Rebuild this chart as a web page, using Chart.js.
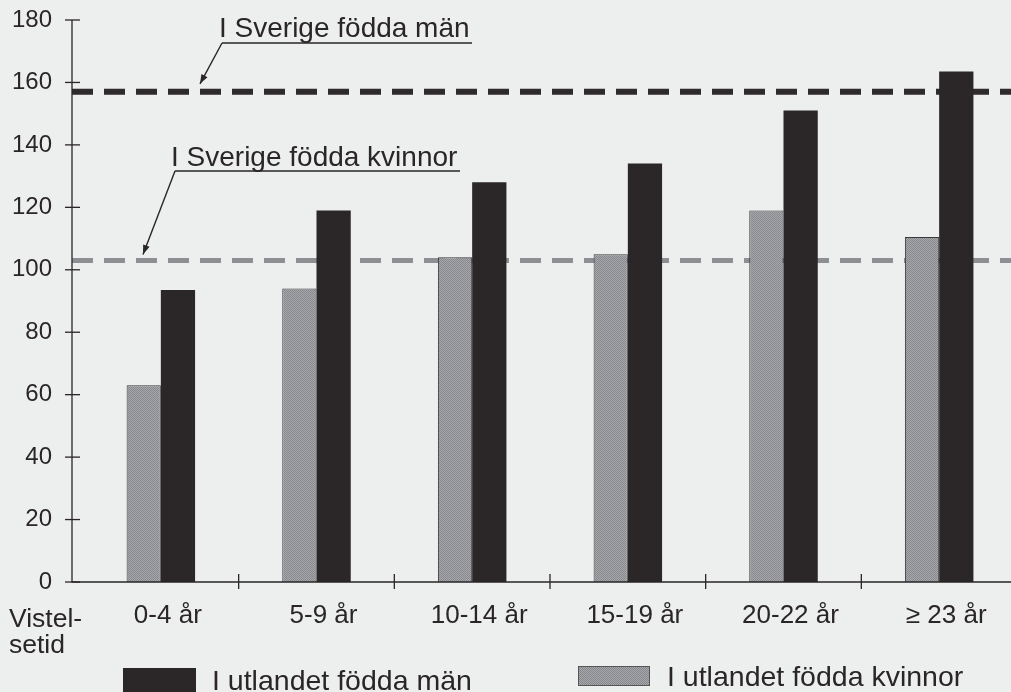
<!DOCTYPE html>
<html>
<head>
<meta charset="utf-8">
<script src="https://cdn.jsdelivr.net/npm/chart.js@4.4.0/dist/chart.umd.min.js"></script>
<style>
  html, body { margin: 0; padding: 0; overflow: hidden; background: #edeeee; }
  #wrap { width: 1017px; height: 692px; }
</style>
</head>
<body>
<div id="wrap"><canvas id="chart" width="1017" height="692"></canvas></div>
<script>
// Vistelsetid och värden
const categories = ['0-4 år', '5-9 år', '10-14 år', '15-19 år', '20-22 år', '≥ 23 år'];
const womenAbroad = [63, 94, 104, 105, 119, 110.5];
const menAbroad = [93.5, 119, 128, 134, 151, 163.5];
// referensnivåer för i Sverige födda
const swedishMen = 157;
const swedishWomen = 103;
const yTickValues = [0, 20, 40, 60, 80, 100, 120, 140, 160, 180];

const FONT = '"Liberation Sans", Arial, sans-serif';
const INK = '#2a2627';
const DARK = '#2b2627';
const AXIS_X = 72;   // där y-axeln står

// prickigt grått mönster för kvinnor
function makeStipple() {
  const c = document.createElement('canvas');
  c.width = 2; c.height = 2;
  const g = c.getContext('2d');
  g.fillStyle = '#a6a7ab';
  g.fillRect(0, 0, 2, 2);
  g.fillStyle = '#88898e';
  g.fillRect(0, 0, 1, 1);
  g.fillRect(1, 1, 1, 1);
  return g.createPattern(c, 'repeat');
}
const stipple = makeStipple();

function arrow(ctx, x0, y0, x1, y1) {
  ctx.beginPath();
  ctx.moveTo(x0, y0);
  ctx.lineTo(x1, y1);
  ctx.stroke();
  const a = Math.atan2(y1 - y0, x1 - x0);
  const len = 10, w = 0.35;
  ctx.beginPath();
  ctx.moveTo(x1, y1);
  ctx.lineTo(x1 - len * Math.cos(a - w), y1 - len * Math.sin(a - w));
  ctx.lineTo(x1 - len * Math.cos(a + w), y1 - len * Math.sin(a + w));
  ctx.closePath();
  ctx.fill();
}

// streckade referenslinjer, bakom staplarna
const refLines = {
  id: 'refLines',
  beforeDatasetsDraw(chart) {
    const ctx = chart.ctx, y = chart.scales.y;
    ctx.save();
    ctx.lineCap = 'butt';
    ctx.setLineDash([21, 11]);
    [[swedishMen, '#2f2a2b', 6], [swedishWomen, '#8e8f93', 5]].forEach(([v, col, w]) => {
      const py = y.getPixelForValue(v);
      ctx.strokeStyle = col;
      ctx.lineWidth = w;
      ctx.beginPath();
      ctx.moveTo(AXIS_X, py);
      ctx.lineTo(chart.width, py);
      ctx.stroke();
    });
    ctx.restore();
  }
};

// axlar med korsande tickmarkeringar, etiketter, pilar och teckenförklaring
const decor = {
  id: 'decor',
  afterDraw(chart) {
    const ctx = chart.ctx;
    const x = chart.scales.x, y = chart.scales.y;
    const area = chart.chartArea;
    ctx.save();
    ctx.strokeStyle = INK;
    ctx.fillStyle = INK;
    ctx.lineWidth = 1.3;

    // axellinjer
    ctx.beginPath();
    ctx.moveTo(AXIS_X, y.getPixelForValue(180));
    ctx.lineTo(AXIS_X, area.bottom);
    ctx.lineTo(chart.width, area.bottom);
    ctx.stroke();

    // y-ticks
    yTickValues.forEach(v => {
      const py = y.getPixelForValue(v);
      ctx.beginPath();
      ctx.moveTo(AXIS_X - 7, py);
      ctx.lineTo(AXIS_X + 8, py);
      ctx.stroke();
    });
    // x-ticks mellan kategorierna
    for (let i = 1; i < categories.length; i++) {
      const px = (x.getPixelForTick(i - 1) + x.getPixelForTick(i)) / 2;
      ctx.beginPath();
      ctx.moveTo(px, area.bottom - 8);
      ctx.lineTo(px, area.bottom + 7);
      ctx.stroke();
    }

    // annoteringar
    const yMen = y.getPixelForValue(swedishMen);
    const yWomen = y.getPixelForValue(swedishWomen);
    ctx.font = '28px ' + FONT;
    ctx.textBaseline = 'alphabetic';
    ctx.textAlign = 'left';
    ctx.fillText('I Sverige födda män', 219, 37);
    ctx.fillText('I Sverige födda kvinnor', 171, 166);
    ctx.lineWidth = 1.4;
    ctx.beginPath();
    ctx.moveTo(222, 43); ctx.lineTo(472, 43);
    ctx.moveTo(175, 171); ctx.lineTo(460, 171);
    ctx.stroke();
    arrow(ctx, 222, 43, 200, yMen - 8);
    arrow(ctx, 175, 171, 143, yWomen - 6);

    // Vistelsetid
    ctx.font = '26.5px ' + FONT;
    ctx.fillText('Vistel-', 9, 627);
    ctx.fillText('setid', 9, 653);

    // teckenförklaring
    const men = chart.data.datasets[1], women = chart.data.datasets[0];
    ctx.fillStyle = men.backgroundColor;
    ctx.fillRect(123, 668, 73, 24);
    ctx.fillStyle = women.backgroundColor;
    ctx.fillRect(578, 666, 72, 20);
    ctx.strokeStyle = '#555';
    ctx.lineWidth = 1;
    ctx.strokeRect(578.5, 666.5, 71, 19);
    ctx.fillStyle = INK;
    ctx.font = '28.5px ' + FONT;
    ctx.fillText(men.label, 212, 690);
    ctx.fillText(women.label, 667, 686);
    ctx.restore();
  }
};

new Chart(document.getElementById('chart'), {
  type: 'bar',
  data: {
    labels: categories,
    datasets: [
      {
        label: 'I utlandet födda kvinnor',
        data: womenAbroad,
        backgroundColor: stipple,
        borderColor: '#3a3a3a',
        borderWidth: 1,
        borderSkipped: 'bottom'
      },
      {
        label: 'I utlandet födda män',
        data: menAbroad,
        backgroundColor: DARK,
        borderWidth: 0
      }
    ]
  },
  options: {
    responsive: false,
    animation: false,
    categoryPercentage: 0.44,
    barPercentage: 1.0,
    layout: { padding: { top: 20, right: 0, left: 0, bottom: 0 } },
    plugins: { legend: { display: false }, tooltip: { enabled: false } },
    scales: {
      x: {
        afterFit: s => { s.height = 110; s.paddingLeft = 0; s.paddingRight = 0; },
        grid: { display: false, drawTicks: false },
        border: { display: false },
        ticks: { color: INK, padding: 18, labelOffset: 7, maxRotation: 0, autoSkip: false, font: { family: FONT, size: 26 } }
      },
      y: {
        min: 0,
        max: 180,
        afterFit: s => { s.width = 83; s.paddingTop = 0; s.paddingBottom = 0; },
        afterBuildTicks: s => { s.ticks = yTickValues.map(v => ({ value: v })); },
        grid: { display: false, drawTicks: false },
        border: { display: false },
        ticks: { color: INK, padding: 31, font: { family: FONT, size: 24 } }
      }
    }
  },
  plugins: [refLines, decor]
});
</script>
</body>
</html>
